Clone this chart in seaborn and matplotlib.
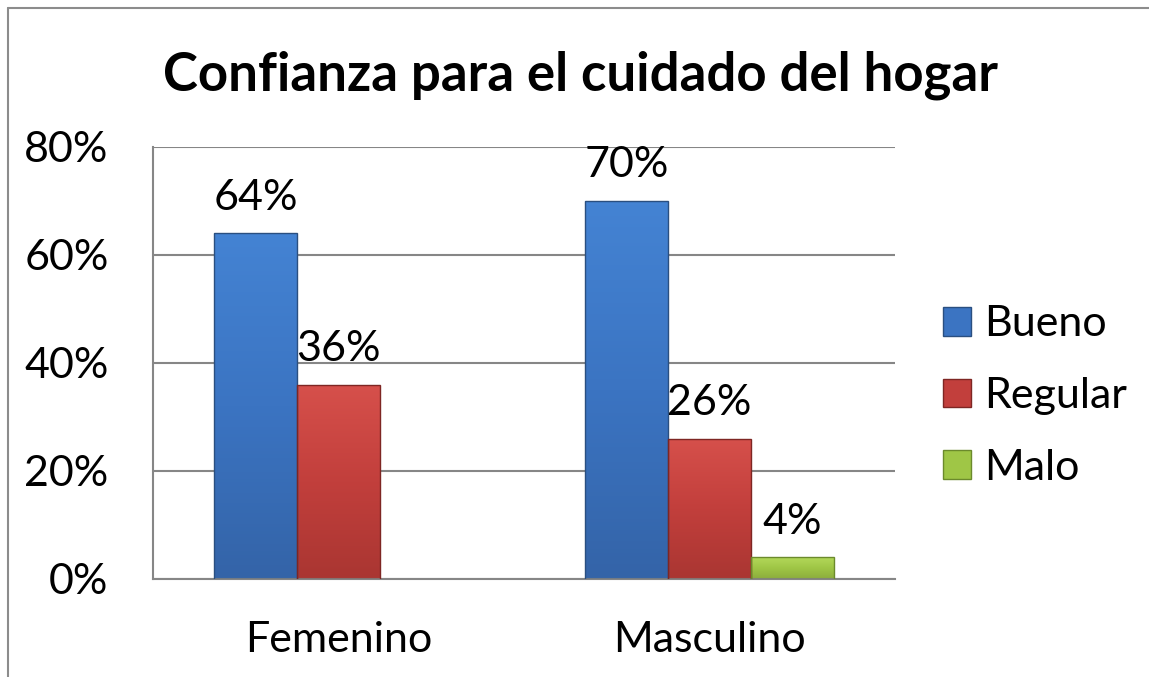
import numpy as np
import pandas as pd
import matplotlib
matplotlib.use("Agg")
import matplotlib.pyplot as plt
from matplotlib.lines import Line2D
from matplotlib.colors import LinearSegmentedColormap
import seaborn as sns

# data
categories = ["Femenino", "Masculino"]
series = ["Bueno", "Regular", "Malo"]
bueno = [64, 70]
regular = [36, 26]
malo = [0, 4]
yticks = [0, 20, 40, 60, 80]

rows = []
for name, vals in zip(series, [bueno, regular, malo]):
    for cat, v in zip(categories, vals):
        rows.append({"sexo": cat, "nivel": name, "pct": v})
df = pd.DataFrame(rows)

colors = {"Bueno": "#3b74c2", "Regular": "#c23f3c", "Malo": "#9fc646"}
tops = {"Bueno": "#4483d3", "Regular": "#d6504b", "Malo": "#b3d85a"}
bottoms = {"Bueno": "#3464a8", "Regular": "#aa3632", "Malo": "#8cad3c"}
edges = {"Bueno": "#2a4f80", "Regular": "#7e2623", "Malo": "#6b8a2c"}

sns.set_style("white")
plt.rcParams["font.family"] = ["Lato", "DejaVu Sans"]
plt.rcParams["text.color"] = "black"
plt.rcParams["xtick.color"] = "black"
plt.rcParams["ytick.color"] = "black"

fig = plt.figure(figsize=(11.49, 6.77), dpi=100)
ax = fig.add_axes([153/1149, 1-579/677, (895-153)/1149, (579-147)/677])

sns.barplot(data=df, x="sexo", y="pct", hue="nivel", hue_order=series,
            palette=colors, width=0.67, saturation=1, ax=ax, legend=True,
            edgecolor="none")

ax.set_ylim(0, 80)
ax.set_xlim(-0.5, 1.5)

# gradient fill + label per bar
for cont, name in zip(ax.containers, series):
    cmap = LinearSegmentedColormap.from_list(name, [bottoms[name], colors[name], tops[name]])
    for bar in cont:
        x0, y0 = bar.get_x(), bar.get_y()
        w, h = bar.get_width(), bar.get_height()
        if h <= 0:
            continue
        grad = np.linspace(0, 1, 100).reshape(-1, 1)
        im = ax.imshow(grad, cmap=cmap, origin="lower", aspect="auto",
                       extent=[x0, x0 + w, y0, y0 + h], zorder=2)
        im.set_clip_path(bar)
        bar.set_facecolor("none")
        bar.set_edgecolor(edges[name])
        bar.set_linewidth(1.0)
        bar.set_zorder(3)
    labels = [f"{v:.0f}%" if v > 0 else "" for v in cont.datavalues]
    ax.bar_label(cont, labels=labels, padding=12, fontsize=31, color="black")

ax.set_ylim(0, 80)
ax.set_xlim(-0.5, 1.5)

ax.set_yticks(yticks)
ax.set_yticklabels([f"{t}%" for t in yticks])
ax.yaxis.grid(True, color="#868686", linewidth=1.5)
ax.set_axisbelow(True)
ax.tick_params(axis="y", length=0, pad=32, labelsize=31)
ax.tick_params(axis="x", length=0, pad=30, labelsize=31)
ax.set_xlabel("")
ax.set_ylabel("")
for s in ["top", "right"]:
    ax.spines[s].set_visible(False)
for s in ["left", "bottom"]:
    ax.spines[s].set_color("#868686")
    ax.spines[s].set_linewidth(1.5)

leg = ax.legend(loc="center left", bbox_to_anchor=(926/1149, 1-396/677),
                bbox_transform=fig.transFigure, frameon=False, fontsize=31,
                handlelength=0.65, handleheight=0.65, handletextpad=0.3,
                labelspacing=0.78, borderaxespad=0)
for h, name in zip(leg.legend_handles, series):
    h.set_edgecolor(edges[name])
    h.set_linewidth(1.0)

fig.text(0.505, 1-90/677, "Confianza para el cuidado del hogar",
         ha="center", va="baseline", fontsize=38, fontweight="bold", color="black")

# chart border (only top and left edges visible)
fig.add_artist(Line2D([8/1149, 1], [1-8/677, 1-8/677], color="#8c8c8c", lw=1.5))
fig.add_artist(Line2D([8/1149, 8/1149], [0, 1-8/677], color="#8c8c8c", lw=1.5))

fig.savefig("out.png", dpi=100)
